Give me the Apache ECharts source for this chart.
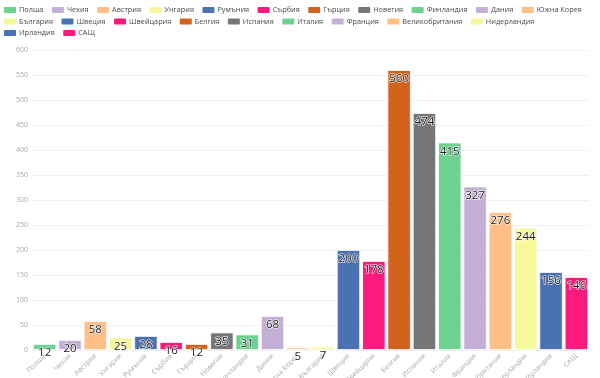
<!DOCTYPE html>
<html>
<head>
<meta charset="utf-8">
<script src="https://cdn.jsdelivr.net/npm/echarts@6/dist/echarts.min.js"></script>
<style>
  html, body { margin: 0; padding: 0; background: #fff; }
  #chart { width: 600px; height: 378px; }
</style>
</head>
<body>
<div id="chart"></div>
<script>
const categories = ['Полша', 'Чехия', 'Австрия', 'Унгария', 'Румъния', 'Сърбия', 'Гърция', 'Новегия', 'Финландия', 'Дания', 'Южна Корея', 'България', 'Швеция', 'Швейцария', 'Белгия', 'Испания', 'Италия', 'Франция', 'Великобритания', 'Нидерландия', 'Ирландия', 'САЩ'];
const values = [12, 20, 58, 25, 28, 16, 12, 35, 31, 68, 5, 7, 200, 178, 560, 474, 415, 327, 276, 244, 156, 146];
const yTicks = { min: 0, max: 600, interval: 50 };

const palette = ['#6dd28f', '#c5b0d5', '#ffbf86', '#f5f99b', '#4a72b3', '#fc1a7d', '#d2631c', '#767676'];

const series = categories.map((name, i) => {
  const data = categories.map((_, j) => (j === i ? values[i] : '-'));
  return {
    name: name,
    type: 'bar',
    stack: 'all',
    barCategoryGap: '8%',
    data: data,
    itemStyle: { color: palette[i % 8], borderColor: '#ffffff', borderWidth: 0.8 },
    label: {
      show: true,
      position: 'insideTop',
      distance: 3,
      color: '#222',
      fontSize: 11.5,
      fontFamily: 'Open Sans',
      textBorderColor: '#ffffff',
      textBorderWidth: 1.2,
      formatter: p => p.value
    }
  };
});

// legend: line break after "Нидерландия" as in the reference
const legendData = categories.slice(0, 20).concat(['\n'], categories.slice(20));

const chart = echarts.init(document.getElementById('chart'));
chart.setOption({
  animation: false,
  backgroundColor: '#ffffff',
  color: palette,
  legend: {
    left: 2,
    right: 8,
    top: 5,
    padding: 0,
    itemWidth: 14,
    itemHeight: 8,
    itemGap: 1.5,
    icon: 'roundRect',
    textStyle: { fontSize: 7.3, lineHeight: 10, color: '#4a4a4a', fontFamily: 'Open Sans', padding: [0, 5, 0, -3] },
    data: legendData
  },
  grid: { left: 32, right: 11, top: 50, bottom: 28, containLabel: false, outerBoundsMode: 'none' },
  xAxis: {
    type: 'category',
    data: categories,
    axisLine: { show: false },
    axisTick: { show: false },
    axisLabel: { rotate: 45, fontSize: 7, color: '#aaa', margin: 5, interval: 0, fontFamily: 'Open Sans' }
  },
  yAxis: {
    type: 'value',
    min: yTicks.min,
    max: yTicks.max,
    interval: yTicks.interval,
    axisLine: { show: false },
    axisTick: { show: false },
    axisLabel: { fontSize: 7, color: '#aaa', margin: 4, fontFamily: 'Open Sans' },
    splitLine: { lineStyle: { color: '#f0f0f0', width: 1 } }
  },
  series: series
});
</script>
</body>
</html>
